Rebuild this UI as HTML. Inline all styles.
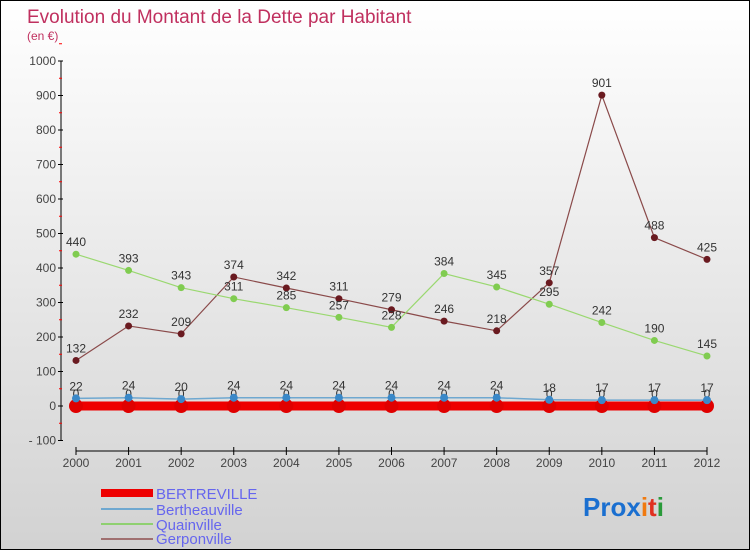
<!DOCTYPE html>
<html><head><meta charset="utf-8"><style>
body{margin:0;width:750px;height:550px;overflow:hidden;font-family:"Liberation Sans","DejaVu Sans",sans-serif}
#wrap{position:relative;width:748px;height:548px;border:1px solid #000;background:linear-gradient(#fff,#d2d2d2)}
</style></head><body>
<div id="wrap">
<svg id="chart" width="748" height="548" style="position:absolute;left:0;top:0">
<text x="26" y="22" font-size="19" fill="#c0305f">Evolution du Montant de la Dette par Habitant</text>
<text x="26" y="39" font-size="12" fill="#c0305f">(en €)</text>
<g id="axes"></g><g id="series"></g>
<g>
<rect x="100" y="488" width="52" height="8" fill="#e00"/>
<text x="155" y="498" font-size="15" fill="#6666ee">BERTREVILLE</text>
<line x1="100" y1="508" x2="152" y2="508" stroke="#6fa8d0" stroke-width="2"/>
<text x="155" y="514" font-size="15" fill="#6666ee">Bertheauville</text>
<line x1="100" y1="523" x2="152" y2="523" stroke="#8fd070" stroke-width="2"/>
<text x="155" y="529" font-size="15" fill="#6666ee">Quainville</text>
<line x1="100" y1="538" x2="152" y2="538" stroke="#a07070" stroke-width="2"/>
<text x="155" y="543" font-size="15" fill="#6666ee">Gerponville</text>
</g>
<text x="582" y="515" font-size="26" font-weight="bold"><tspan fill="#1a6fd0">Pro</tspan><tspan fill="#1a6fd0">x</tspan><tspan fill="#f07a10">i</tspan><tspan fill="#e03020">t</tspan><tspan fill="#2a9a3a">i</tspan></text>
</svg>
</div>
<script>
const years=[2000,2001,2002,2003,2004,2005,2006,2007,2008,2009,2010,2011,2012];
const yTicks=[-100,0,100,200,300,400,500,600,700,800,900,1000];
const bertreville=[0,0,0,0,0,0,0,0,0,0,0,0,0];
const bertheauville=[22,24,20,24,24,24,24,24,24,18,17,17,17];
const quainville=[440,393,343,311,285,257,228,384,345,295,242,190,145];
const gerponville=[132,232,209,374,342,311,279,246,218,357,901,488,425];
const NS="http://www.w3.org/2000/svg";
const xS=i=>75+i*(706-75)/(years.length-1);
const yS=v=>405-v*0.345;
function mk(tag,attrs,parent){const e=document.createElementNS(NS,tag);for(const k in attrs)e.setAttribute(k,attrs[k]);parent.appendChild(e);return e;}
const ax=document.getElementById('axes'),se=document.getElementById('series');
let a=mk('line',{x1:60,y1:yS(1000),x2:60,y2:yS(-100),stroke:'#000'},ax);


yTicks.forEach(v=>{
 mk('line',{x1:57,y1:yS(v),x2:62,y2:yS(v),stroke:'#000'},ax);
 mk('line',{x1:58,y1:yS(v+50),x2:61,y2:yS(v+50),stroke:'#f00'},ax);
 const t=mk('text',{x:55,y:yS(v)+4,'font-size':12,'text-anchor':'end',fill:'#444'},ax);t.textContent=(v<0?'- '+(-v):v);
 
 
});
let b=mk('line',{x1:75,y1:450,x2:706,y2:450,stroke:'#000'},ax);


years.forEach((y,i)=>{
 mk('line',{x1:xS(i),y1:446,x2:xS(i),y2:454,stroke:'#000'},ax);
 const t=mk('text',{x:xS(i),y:466,'font-size':12,'text-anchor':'middle',fill:'#444'},ax);t.textContent=y;
 
 
});
function series(vals,color,w,r,name,lblColor){
 const g=mk('g',{},se);
 
 
 const p=mk('polyline',{points:vals.map((v,i)=>xS(i)+','+yS(v)).join(' '),fill:'none',stroke:color,'stroke-width':w},g);
 
 
 vals.forEach((v,i)=>{
  const c=mk('circle',{cx:xS(i),cy:yS(v),r:r,fill:lblColor},g);
  
  
  const t=mk('text',{x:xS(i),y:yS(v)-8,'font-size':12,'text-anchor':'middle',fill:'#333'},g);t.textContent=v;
  
  
 });
}
series(gerponville,'#8a4a4a',1.2,3.5,'gerponville','#6a1a20');
series(quainville,'#9ad870',1.2,3.5,'quainville','#80cc50');
series(bertreville,'#ee0000',9,7,'bertreville','#e00000');
series(bertheauville,'#6fa8d0',1.5,4,'bertheauville','#3a88c8');
</script>
</body></html>
